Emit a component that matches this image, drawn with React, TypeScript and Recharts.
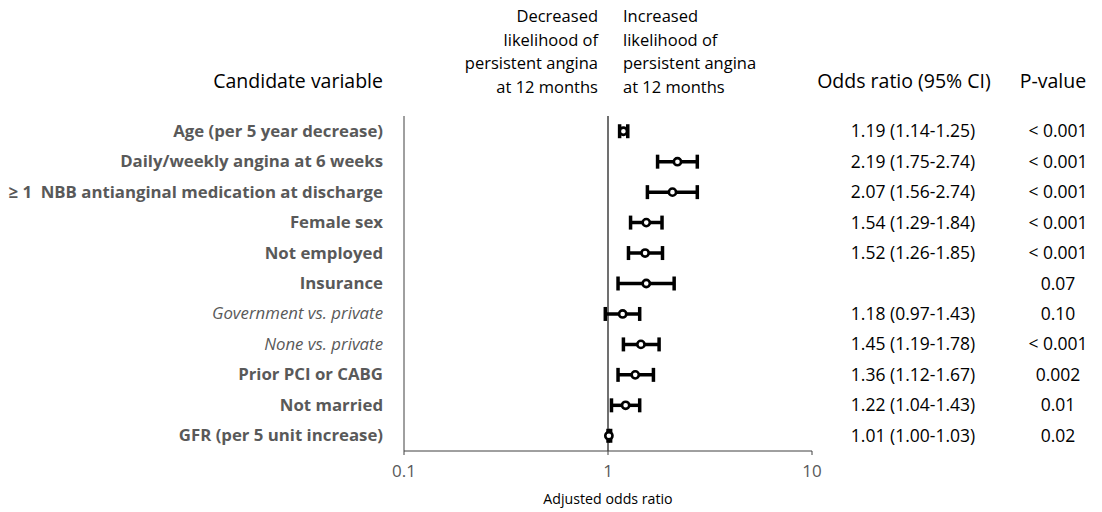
import { ScatterChart, Scatter, XAxis, YAxis, ErrorBar, ReferenceLine } from 'recharts'

const variables = [
  'Age (per 5 year decrease)',
  'Daily/weekly angina at 6 weeks',
  '\u2265 1  NBB antianginal medication at discharge',
  'Female sex',
  'Not employed',
  'Insurance',
  'Government vs. private',
  'None vs. private',
  'Prior PCI or CABG',
  'Not married',
  'GFR (per 5 unit increase)',
]
const subgroups = ['Government vs. private', 'None vs. private']
const oddsRatio = [1.19, 2.19, 2.07, 1.54, 1.52, 1.54, 1.18, 1.45, 1.36, 1.22, 1.01]
const ciLow = [1.14, 1.75, 1.56, 1.29, 1.26, 1.12, 0.97, 1.19, 1.12, 1.04, 1.0]
const ciHigh = [1.25, 2.74, 2.74, 1.84, 1.85, 2.11, 1.43, 1.78, 1.67, 1.43, 1.03]
const orLabels = [
  '1.19 (1.14-1.25)',
  '2.19 (1.75-2.74)',
  '2.07 (1.56-2.74)',
  '1.54 (1.29-1.84)',
  '1.52 (1.26-1.85)',
  '',
  '1.18 (0.97-1.43)',
  '1.45 (1.19-1.78)',
  '1.36 (1.12-1.67)',
  '1.22 (1.04-1.43)',
  '1.01 (1.00-1.03)',
]
const pValues = ['< 0.001', '< 0.001', '< 0.001', '< 0.001', '< 0.001', '0.07', '0.10', '< 0.001', '0.002', '0.01', '0.02']
const xTicks = [0.1, 1, 10]

const data = variables.map((name, i) => ({
  name,
  or: oddsRatio[i],
  err: [oddsRatio[i] - ciLow[i], ciHigh[i] - oddsRatio[i]],
}))

const FONT = '"Open Sans", Lato, sans-serif'

function RowTick(props: any) {
  const { x, y, payload, index } = props
  const name = payload.value as string
  const italic = subgroups.includes(name)
  return (
    <g>
      <text
        x={x}
        y={y}
        dy={5.5}
        textAnchor="end"
        fill="#595959"
        fontSize={16.8}
        fontWeight={italic ? 400 : 700}
        fontStyle={italic ? 'italic' : 'normal'}
        style={{ whiteSpace: 'pre' }}
      >
        {name}
      </text>
      <text x={913} y={y} dy={6} textAnchor="middle" fill="#000" fontSize={17.5}>
        {orLabels[index]}
      </text>
      <text x={1058} y={y} dy={6} textAnchor="middle" fill="#000" fontSize={17.5}>
        {pValues[index]}
      </text>
    </g>
  )
}

function Dot(props: any) {
  const { cx, cy } = props
  return <circle cx={cx} cy={cy} r={3.6} fill="#fff" stroke="#000" strokeWidth={2.6} />
}

const decreasedLines = ['Decreased', 'likelihood of', 'persistent angina', 'at 12 months']
const increasedLines = ['Increased', 'likelihood of', 'persistent angina', 'at 12 months']

export default function App() {
  return (
    <div style={{ position: 'absolute', left: 0, top: 0, width: 1102, height: 512, fontFamily: FONT }}>
      <ScatterChart
        width={1102}
        height={512}
        margin={{ top: 116, right: 290, bottom: 31, left: 14 }}
        style={{ fontFamily: FONT }}
      >
        <XAxis
          type="number"
          dataKey="or"
          scale="log"
          domain={[0.1, 10]}
          ticks={xTicks}
          allowDataOverflow
          height={30}
          stroke="#404040"
          tickSize={4}
          tick={{ fill: '#595959', fontSize: 17 }}
          tickMargin={10}
          tickFormatter={(v: number) => String(v)}
        />
        <YAxis
          type="category"
          dataKey="name"
          reversed
          width={390}
          stroke="#404040"
          tickLine={false}
          tickSize={0}
          tickMargin={21}
          interval={0}
          tick={<RowTick />}
        />
        <ReferenceLine x={1} stroke="#404040" strokeWidth={1.5} />
        <Scatter data={data} shape={<Dot />} isAnimationActive={false}>
          <ErrorBar dataKey="err" direction="x" width={7} stroke="#000" strokeWidth={3.5} />
        </Scatter>
      </ScatterChart>

      <div style={{ position: 'absolute', right: 1102 - 383, top: 67, fontSize: 19.5, color: '#000', whiteSpace: 'nowrap' }}>
        Candidate variable
      </div>
      <div style={{ position: 'absolute', right: 1102 - 598, top: 4, fontSize: 16.5, lineHeight: '23.5px', color: '#000', textAlign: 'right', whiteSpace: 'nowrap' }}>
        {decreasedLines.map((l) => (
          <div key={l}>{l}</div>
        ))}
      </div>
      <div style={{ position: 'absolute', left: 623, top: 4, fontSize: 16.5, lineHeight: '23.5px', color: '#000', textAlign: 'left', whiteSpace: 'nowrap' }}>
        {increasedLines.map((l) => (
          <div key={l}>{l}</div>
        ))}
      </div>
      <div style={{ position: 'absolute', left: 804, width: 200, textAlign: 'center', top: 67, fontSize: 19.5, color: '#000', whiteSpace: 'nowrap' }}>
        Odds ratio (95% CI)
      </div>
      <div style={{ position: 'absolute', left: 1003, width: 100, textAlign: 'center', top: 67, fontSize: 19.5, color: '#000', whiteSpace: 'nowrap' }}>
        P-value
      </div>
      <div style={{ position: 'absolute', left: 508, width: 200, textAlign: 'center', top: 489, fontSize: 14.2, color: '#000', whiteSpace: 'nowrap' }}>
        Adjusted odds ratio
      </div>
    </div>
  )
}
